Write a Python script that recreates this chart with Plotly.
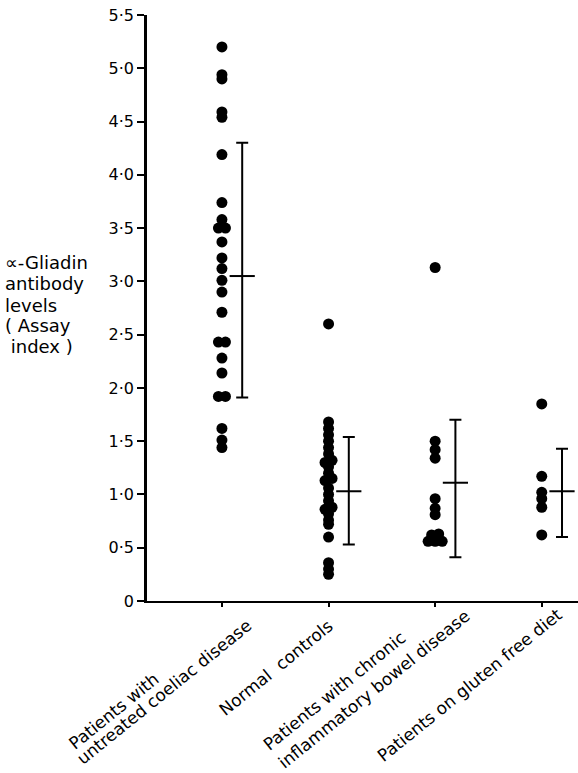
import plotly.graph_objects as go

# ---------------- data ----------------
categories = [
    "Patients with<br>untreated coeliac disease",
    "Normal  controls",
    "Patients with chronic<br>inflammatory bowel disease",
    "Patients on gluten free diet",
]

coeliac = [5.20, 4.94, 4.90, 4.59, 4.54, 4.19, 3.74, 3.58, 3.50, 3.50, 3.37, 3.22,
           3.12, 3.01, 2.90, 2.71, 2.43, 2.43, 2.28, 2.14, 1.92, 1.92, 1.62, 1.51, 1.44]
controls = [2.60, 1.68, 1.62, 1.56, 1.50, 1.44, 1.38, 1.32, 1.30, 1.26, 1.20, 1.15,
            1.13, 1.06, 1.00, 0.94, 0.88, 0.86, 0.82, 0.76, 0.72, 0.60, 0.36, 0.30, 0.25]
ibd = [3.13, 1.50, 1.42, 1.34, 0.96, 0.87, 0.81, 0.63, 0.62, 0.56, 0.56, 0.56]
gluten_free = [1.85, 1.17, 1.02, 0.96, 0.88, 0.62]

groups = [coeliac, controls, ibd, gluten_free]

means = [3.05, 1.03, 1.11, 1.03]
upper = [4.30, 1.54, 1.70, 1.43]
lower = [1.91, 0.53, 0.41, 0.60]

y_tickvals = [0, 0.5, 1.0, 1.5, 2.0, 2.5, 3.0, 3.5, 4.0, 4.5, 5.0, 5.5]
y_ticktext = ["0", "0·5", "1·0", "1·5", "2·0", "2·5", "3·0", "3·5", "4·0", "4·5", "5·0", "5·5"]

y_title_lines = ["∝-Gliadin", "antibody", "levels", "( Assay", "\u00a0index )"]

# ---------------- layout helpers ----------------
DOT_STEP = 0.066     # horizontal spacing of side-by-side dots (category units)
NEAR = 0.03          # values closer than this are drawn side by side
BAR_OFFSET = 0.19    # error bar placed to the right of the dots
FONT = "DejaVu Sans"

# centre of each rotated label line, relative to its tick / the x axis (px)
label_line_shifts = [
    [(-108, -110), (-58, -91)],
    [(-53, -67)],
    [(-101, -90), (-61, -88)],
    [(-72, -84)],
]
title_line_shifts = [339, 318, 296, 276, 255]


def swarm_offsets(values):
    order = sorted(range(len(values)), key=lambda i: values[i])
    offsets = [0.0] * len(values)
    clusters = []
    for i in order:
        if clusters and abs(values[i] - values[clusters[-1][-1]]) < NEAR:
            clusters[-1].append(i)
        else:
            clusters.append([i])
    for c in clusters:
        n = len(c)
        for k, i in enumerate(c):
            offsets[i] = (k - (n - 1) / 2) * DOT_STEP
    return offsets


fig = go.Figure()

for gi, vals in enumerate(groups):
    offs = swarm_offsets(vals)
    fig.add_trace(go.Scatter(
        x=[gi + o for o in offs], y=vals, mode="markers",
        marker=dict(size=11, color="black", line=dict(width=0)),
        showlegend=False, hoverinfo="y",
    ))

bar_x = [i + BAR_OFFSET for i in range(len(categories))]
fig.add_trace(go.Scatter(
    x=bar_x, y=means, mode="markers",
    marker=dict(symbol="line-ew", size=18, color="black",
                line=dict(width=2, color="black")),
    error_y=dict(type="data", symmetric=False,
                 array=[u - m for u, m in zip(upper, means)],
                 arrayminus=[m - l for m, l in zip(means, lower)],
                 color="black", thickness=2, width=6),
    showlegend=False, hoverinfo="skip",
))

annotations = []
for line, dy in zip(y_title_lines, title_line_shifts):
    annotations.append(dict(
        text=line, xref="paper", yref="paper", x=0, y=0, xshift=-144, yshift=dy,
        xanchor="left", yanchor="middle", showarrow=False,
        font=dict(family=FONT, size=18, color="black"),
    ))

for i, (cat, shifts) in enumerate(zip(categories, label_line_shifts)):
    for line, (dx, dy) in zip(cat.split("<br>"), shifts):
        annotations.append(dict(
            text=line, xref="x", yref="paper", x=i, y=0, xshift=dx, yshift=dy,
            xanchor="center", yanchor="middle", textangle=-39,
            showarrow=False, font=dict(family=FONT, size=17, color="black"),
        ))

fig.update_layout(
    width=578, height=773,
    margin=dict(l=147, r=0, t=15, b=172),
    paper_bgcolor="white", plot_bgcolor="white",
    font=dict(family=FONT, color="black"),
    annotations=annotations,
    xaxis=dict(range=[-0.703, 3.34], tickvals=list(range(len(categories))),
               ticktext=[""] * len(categories), showgrid=False, zeroline=False,
               showline=True, linecolor="black", linewidth=2,
               ticks="outside", ticklen=4, tickwidth=2, tickcolor="black"),
    yaxis=dict(range=[0, 5.5], tickvals=y_tickvals, ticktext=y_ticktext,
               showgrid=False, zeroline=False, showline=True,
               linecolor="black", linewidth=2.5, ticks="outside", ticklen=7,
               tickwidth=2, tickcolor="black", ticklabeloverflow="allow",
               tickfont=dict(family=FONT, size=16, color="black")),
)

fig.write_html("out.html", config={"displayModeBar": False},
               post_script="document.body.style.margin='0';")
